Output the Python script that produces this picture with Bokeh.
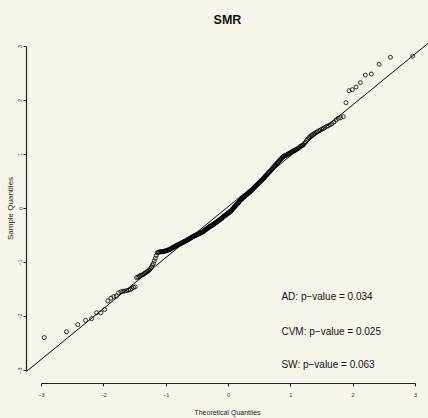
from statistics import NormalDist
from jinja2 import Template
from bokeh.plotting import figure
from bokeh.models import Range1d, Slope, Label, FixedTicker
from bokeh.embed import file_html
from bokeh.resources import INLINE

# Sorted sample values (SMR)
sample = [
    -2.39, -2.28, -2.15, -2.07, -2.04, -1.93, -1.93, -1.87, -1.71, -1.66,
    -1.63, -1.62, -1.56, -1.54, -1.53, -1.53, -1.52, -1.51, -1.50, -1.48,
    -1.46, -1.45, -1.28, -1.27, -1.25, -1.24, -1.23, -1.22, -1.20, -1.19,
    -1.17, -1.16, -1.14, -1.12, -1.09, -1.05, -1.02, -0.97, -0.92, -0.87,
    -0.82, -0.81, -0.81, -0.80, -0.80, -0.80, -0.80, -0.80, -0.79, -0.79,
    -0.78, -0.78, -0.77, -0.77, -0.76, -0.76, -0.75, -0.74, -0.73, -0.72,
    -0.72, -0.71, -0.70, -0.70, -0.69, -0.68, -0.67, -0.67, -0.66, -0.66,
    -0.65, -0.64, -0.64, -0.63, -0.63, -0.62, -0.61, -0.61, -0.60, -0.60,
    -0.59, -0.58, -0.58, -0.57, -0.56, -0.56, -0.55, -0.54, -0.54, -0.53,
    -0.52, -0.52, -0.51, -0.51, -0.50, -0.50, -0.49, -0.49, -0.48, -0.48,
    -0.47, -0.47, -0.46, -0.46, -0.45, -0.45, -0.44, -0.44, -0.43, -0.43,
    -0.42, -0.41, -0.40, -0.40, -0.39, -0.38, -0.38, -0.37, -0.36, -0.35,
    -0.35, -0.34, -0.33, -0.33, -0.32, -0.32, -0.31, -0.31, -0.30, -0.29,
    -0.29, -0.28, -0.27, -0.27, -0.26, -0.25, -0.25, -0.24, -0.23, -0.23,
    -0.22, -0.21, -0.21, -0.20, -0.19, -0.19, -0.18, -0.17, -0.16, -0.15,
    -0.15, -0.14, -0.13, -0.13, -0.12, -0.11, -0.11, -0.10, -0.09, -0.09,
    -0.08, -0.07, -0.06, -0.06, -0.05, -0.04, -0.03, -0.02, -0.01, 0.00,
    0.01, 0.02, 0.03, 0.04, 0.05, 0.06, 0.07, 0.08, 0.09, 0.10,
    0.11, 0.12, 0.13, 0.15, 0.16, 0.17, 0.17, 0.18, 0.19, 0.20,
    0.21, 0.22, 0.22, 0.23, 0.24, 0.25, 0.26, 0.26, 0.27, 0.28,
    0.29, 0.30, 0.30, 0.31, 0.32, 0.33, 0.34, 0.35, 0.36, 0.37,
    0.38, 0.39, 0.40, 0.41, 0.42, 0.43, 0.44, 0.45, 0.46, 0.47,
    0.48, 0.49, 0.50, 0.51, 0.52, 0.53, 0.54, 0.55, 0.56, 0.57,
    0.59, 0.60, 0.61, 0.62, 0.63, 0.65, 0.66, 0.67, 0.68, 0.69,
    0.70, 0.72, 0.73, 0.74, 0.76, 0.77, 0.79, 0.80, 0.81, 0.83,
    0.84, 0.85, 0.87, 0.88, 0.90, 0.91, 0.92, 0.94, 0.95, 0.96,
    0.97, 0.98, 0.98, 0.99, 1.00, 1.01, 1.01, 1.02, 1.03, 1.04,
    1.05, 1.06, 1.07, 1.07, 1.08, 1.09, 1.10, 1.11, 1.12, 1.14,
    1.15, 1.16, 1.17, 1.18, 1.21, 1.23, 1.26, 1.28, 1.31, 1.33,
    1.35, 1.36, 1.38, 1.39, 1.41, 1.42, 1.44, 1.45, 1.47, 1.48,
    1.50, 1.52, 1.53, 1.55, 1.57, 1.60, 1.64, 1.67, 1.68, 1.70,
    1.96, 2.18, 2.20, 2.25, 2.33, 2.47, 2.49, 2.67, 2.80, 2.82,
]

x_ticks = [-3, -2, -1, 0, 1, 2, 3]
y_ticks = [-3, -2, -1, 0, 1, 2, 3]
line_intercept = 0.039
line_slope = 0.943
tests = ["AD: p\u2212value = 0.034", "CVM:  p\u2212value = 0.025", "SW:  p\u2212value = 0.063"]

# theoretical normal quantiles (as R's qqnorm / ppoints)
n = len(sample)
theo = [NormalDist().inv_cdf((i - 0.5) / n) for i in range(1, n + 1)]

BG = "#F7F5E9"
FONT = "Liberation Sans"

p = figure(width=428, height=418, output_backend="svg", toolbar_location=None,
           x_range=Range1d(-3.24, 3.209), y_range=Range1d(-3.24, 3.24),
           min_border_left=26, min_border_right=0, min_border_top=33, min_border_bottom=33,
           background_fill_color=BG, border_fill_color=BG, outline_line_color=None)
p.grid.visible = False

p.title.text = "SMR"
p.title.align = "center"
p.title.text_font = FONT
p.title.text_font_size = "12.5px"
p.title.text_font_style = "bold"
p.title.text_color = "#111111"
p.title.standoff = 13
p.title.offset = 0

for ax, ticks in ((p.xaxis[0], x_ticks), (p.yaxis[0], y_ticks)):
    ax.ticker = FixedTicker(ticks=ticks)
    ax.bounds = (ticks[0], ticks[-1])
    ax.axis_line_color = "#222222"
    ax.axis_line_width = 1.2
    ax.major_tick_line_color = "#222222"
    ax.major_tick_out = 3
    ax.major_tick_in = 0
    ax.minor_tick_out = 0
    ax.minor_tick_in = 0
    ax.major_label_text_font = FONT
    ax.major_label_text_font_size = "5.5px"
    ax.major_label_text_color = "#333333"
    ax.axis_label_text_font = FONT
    ax.axis_label_text_font_style = "normal"
    ax.axis_label_text_color = "#222222"

p.xaxis.axis_label = "Theoretical Quantiles"
p.xaxis.axis_label_text_font_size = "7px"
p.xaxis.major_label_standoff = 6
p.xaxis.axis_label_standoff = 9

p.yaxis.axis_label = "Sample Quantiles"
p.yaxis.axis_label_text_font_size = "8px"
p.yaxis.major_label_orientation = "vertical"
p.yaxis.major_label_standoff = 1
p.yaxis.axis_label_standoff = 1

p.add_layout(Slope(gradient=line_slope, y_intercept=line_intercept,
                   line_color="black", line_width=1))

p.scatter(theo, sample, marker="circle", size=4.0, fill_alpha=0,
          line_color="black", line_width=0.8)

for txt, yy in zip(tests, (-1.638, -2.282, -2.89)):
    p.add_layout(Label(x=0.85, y=yy, text=txt, text_baseline="middle",
                       text_font=FONT, text_font_size="10px", text_color="#111111"))

html = None
try:
    tmpl = Template("{% extends base %}{% block postamble %}"
                    "<style>html, body { margin: 0; padding: 0; overflow: hidden; background: "
                    + BG + "; }</style>{% endblock %}")
    html = file_html(p, INLINE, template=tmpl)
except Exception:
    html = None
if html is None:
    html = file_html(p, INLINE)
open("out.html", "w").write(html)
